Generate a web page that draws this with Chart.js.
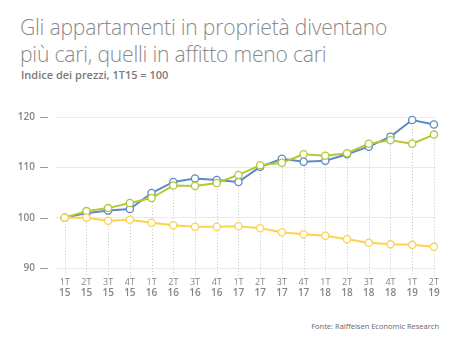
<!DOCTYPE html>
<html>
<head>
<meta charset="utf-8">
<script src="https://cdn.jsdelivr.net/npm/chart.js@4"></script>
<style>
  html, body { margin: 0; padding: 0; background: #fff; }
  body { width: 460px; height: 340px; position: relative; overflow: hidden; font-family: "Open Sans", sans-serif; }
  #title { position: absolute; left: 20px; top: 13px; font-size: 21.1px; font-weight: 300; line-height: 27px; color: #8a8a8a; letter-spacing: -0.2px; white-space: nowrap; }
  #subtitle { position: absolute; left: 21px; top: 67px; font-size: 11px; font-weight: 600; color: #7a7a7a; }
  #source { position: absolute; right: 21px; top: 321px; font-size: 7.5px; color: #666; }
  #wrap { position: absolute; left: 0; top: 100px; width: 460px; height: 200px; }
</style>
</head>
<body>
<div id="title">Gli appartamenti in proprietà diventano<br>più cari, quelli in affitto meno cari</div>
<div id="subtitle">Indice dei prezzi, 1T15 = 100</div>
<div id="wrap"><canvas id="chart"></canvas></div>
<div id="source">Fonte: Raiffeisen Economic Research</div>
<script>
"use strict";

// ── Data ──────────────────────────────────────────────────────────
const QUARTERS = ["1T","2T","3T","4T","1T","2T","3T","4T","1T","2T","3T","4T","1T","2T","3T","4T","1T","2T"];
const YEARS    = ["15","15","15","15","16","16","16","16","17","17","17","17","18","18","18","18","19","19"];
const BLUE_VALUES   = [100, 100.9, 101.4, 101.7, 104.9, 107.1, 107.8, 107.5, 107.1, 110.1, 111.7, 111.1, 111.3, 112.6, 114.1, 116.1, 119.4, 118.5];
const GREEN_VALUES  = [100, 101.3, 101.9, 102.9, 103.9, 106.4, 106.3, 106.9, 108.5, 110.4, 110.9, 112.6, 112.3, 112.8, 114.7, 115.4, 114.7, 116.5];
const YELLOW_VALUES = [100, 100.0, 99.4, 99.6, 99.0, 98.5, 98.2, 98.2, 98.3, 97.9, 97.1, 96.7, 96.4, 95.7, 95.0, 94.7, 94.6, 94.2];
const Y_TICKS = [90, 100, 110, 120];

const BLUE   = "#5f8ac4";
const GREEN  = "#b2c934";
const YELLOW = "#fdd24e";
const MUTED  = "#858585";

const toXY = arr => arr.map((v, i) => ({ x: i, y: v }));

function series(values, color) {
  return {
    data: toXY(values),
    borderColor: color,
    backgroundColor: "#fff",
    pointBackgroundColor: "#fff",
    pointBorderColor: color,
    pointBorderWidth: 1.3,
    pointRadius: 3.6,
    borderWidth: 2,
    tension: 0,
    clip: false,
  };
}

// ── Plugin: drop lines, y dashes, two-line x labels ───────────────
const decor = {
  id: "decor",
  beforeDatasetsDraw(chart) {
    const { ctx, chartArea, scales: { x, y } } = chart;
    ctx.save();
    ctx.strokeStyle = "#c8c8c8";
    ctx.lineWidth = 1;
    ctx.setLineDash([1, 2]);
    QUARTERS.forEach((q, i) => {
      const top = Math.max(BLUE_VALUES[i], GREEN_VALUES[i], YELLOW_VALUES[i]);
      const px = Math.round(x.getPixelForValue(i)) + 0.5;
      ctx.beginPath();
      ctx.moveTo(px, y.getPixelForValue(top));
      ctx.lineTo(px, chartArea.bottom + 8);
      ctx.stroke();
    });
    ctx.restore();
  },
  afterDraw(chart) {
    const { ctx, chartArea, scales: { x, y } } = chart;
    ctx.save();
    // dashes next to y labels
    ctx.strokeStyle = "#9a9a9a";
    ctx.lineWidth = 1;
    Y_TICKS.forEach(v => {
      const py = Math.round(y.getPixelForValue(v)) + 0.5;
      ctx.beginPath();
      ctx.moveTo(chartArea.left - 16, py);
      ctx.lineTo(chartArea.left - 8, py);
      ctx.stroke();
    });
    // x labels
    ctx.fillStyle = MUTED;
    ctx.textAlign = "center";
    ctx.textBaseline = "middle";
    QUARTERS.forEach((q, i) => {
      const px = x.getPixelForValue(i);
      ctx.font = "400 9px 'Open Sans', sans-serif";
      ctx.fillText(q, px, chartArea.bottom + 14);
      ctx.font = "600 10px 'Open Sans', sans-serif";
      ctx.fillText(YEARS[i], px, chartArea.bottom + 25);
    });
    ctx.restore();
  }
};

new Chart(document.getElementById("chart"), {
  type: "line",
  data: {
    datasets: [
      series(YELLOW_VALUES, YELLOW),
      series(GREEN_VALUES, GREEN),
      series(BLUE_VALUES, BLUE),
    ]
  },
  options: {
    responsive: true, maintainAspectRatio: false,
    animation: false,
    layout: { padding: { left: 0, right: 25, top: 17, bottom: 32 } },
    plugins: { legend: { display: false }, tooltip: { enabled: false } },
    scales: {
      x: {
        type: "linear", min: -0.4, max: 17.05,
        display: false,
      },
      y: {
        min: 90, max: 120,
        afterFit: s => { s.width = 56; s.paddingTop = 0; s.paddingBottom = 0; },
        afterBuildTicks: s => { s.ticks = Y_TICKS.map(v => ({ value: v })); },
        border: { display: false },
        grid: { color: "#ebebeb", drawTicks: false },
        ticks: {
          padding: 21,
          color: MUTED,
          font: { family: "'Open Sans', sans-serif", size: 10, weight: "600" },
        }
      }
    }
  },
  plugins: [decor]
});
</script>
</body>
</html>
